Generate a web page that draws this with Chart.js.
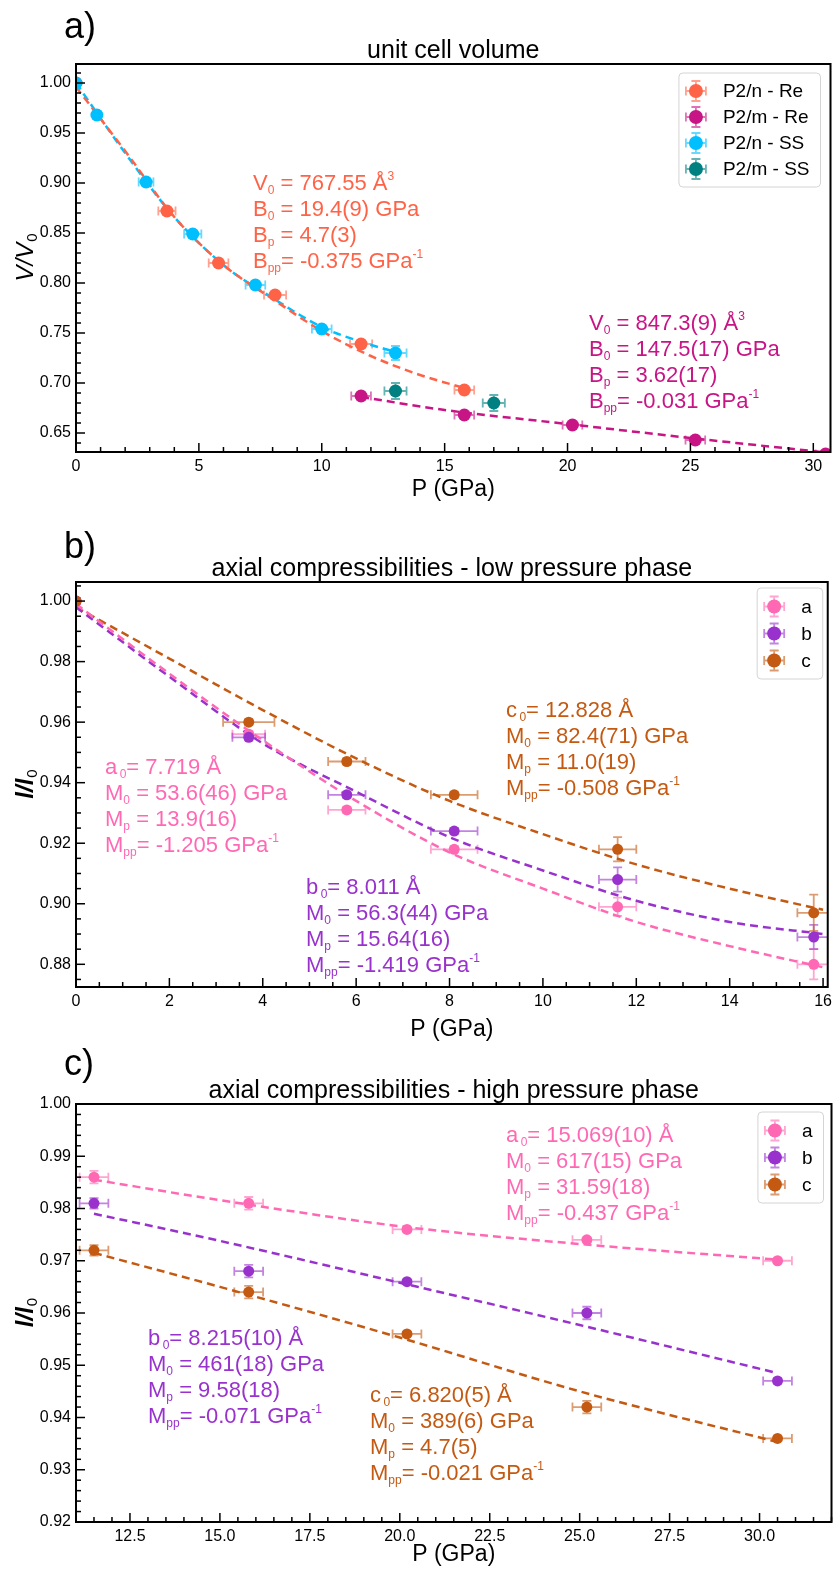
<!DOCTYPE html>
<html>
<head>
<meta charset="utf-8">
<script src="https://cdn.jsdelivr.net/npm/chart.js@4.4.0/dist/chart.umd.min.js"></script>
<style>
  body { margin: 0; background: #fff; }
  #wrap { position: relative; width: 837px; height: 1570px; overflow: hidden; font-family: "Liberation Sans", Arial, sans-serif; }
  canvas { position: absolute; left: 0; }
  .fit { position: absolute; font-size: 22px; line-height: 26px; white-space: nowrap; }
  .fit sub { font-size: 12px; vertical-align: -4px; line-height: 0; }
  .fit sup { font-size: 12px; vertical-align: 10px; line-height: 0; }
</style>
</head>
<body>
<div id="wrap">
  <canvas id="chA" width="837" height="505" style="top:0px"></canvas>
  <canvas id="chB" width="837" height="540" style="top:505px"></canvas>
  <canvas id="chC" width="837" height="525" style="top:1045px"></canvas>

  <div class="fit" style="left:253px;top:170px;color:#ff6347">
    V<sub>0</sub> = 767.55 Å<sup>3</sup><br>B<sub>0</sub> = 19.4(9) GPa<br>B<sub>p</sub> = 4.7(3)<br>B<sub>pp</sub>= -0.375 GPa<sup>-1</sup>
  </div>
  <div class="fit" style="left:589px;top:310px;color:#c71585">
    V<sub>0</sub> = 847.3(9) Å<sup>3</sup><br>B<sub>0</sub> = 147.5(17) GPa<br>B<sub>p</sub> = 3.62(17)<br>B<sub>pp</sub>= -0.031 GPa<sup>-1</sup>
  </div>

  <div class="fit" style="left:105px;top:754px;color:#ff69b4">
    a<sub>&thinsp;0</sub>= 7.719 Å<br>M<sub>0</sub> = 53.6(46) GPa<br>M<sub>p</sub> = 13.9(16)<br>M<sub>pp</sub>= -1.205 GPa<sup>-1</sup>
  </div>
  <div class="fit" style="left:506px;top:697px;color:#c45a12">
    c<sub>&thinsp;0</sub>= 12.828 Å<br>M<sub>0</sub> = 82.4(71) GPa<br>M<sub>p</sub> = 11.0(19)<br>M<sub>pp</sub>= -0.508 GPa<sup>-1</sup>
  </div>
  <div class="fit" style="left:306px;top:874px;color:#9932cc">
    b<sub>&thinsp;0</sub>= 8.011 Å<br>M<sub>0</sub> = 56.3(44) GPa<br>M<sub>p</sub> = 15.64(16)<br>M<sub>pp</sub>= -1.419 GPa<sup>-1</sup>
  </div>

  <div class="fit" style="left:506px;top:1122px;color:#ff69b4">
    a<sub>&thinsp;0</sub>= 15.069(10) Å<br>M<sub>0</sub> = 617(15) GPa<br>M<sub>p</sub> = 31.59(18)<br>M<sub>pp</sub>= -0.437 GPa<sup>-1</sup>
  </div>
  <div class="fit" style="left:148px;top:1325px;color:#9932cc">
    b<sub>&thinsp;0</sub>= 8.215(10) Å<br>M<sub>0</sub> = 461(18) GPa<br>M<sub>p</sub> = 9.58(18)<br>M<sub>pp</sub>= -0.071 GPa<sup>-1</sup>
  </div>
  <div class="fit" style="left:370px;top:1382px;color:#c45a12">
    c<sub>&thinsp;0</sub>= 6.820(5) Å<br>M<sub>0</sub> = 389(6) GPa<br>M<sub>p</sub> = 4.7(5)<br>M<sub>pp</sub>= -0.021 GPa<sup>-1</sup>
  </div>
</div>

<script>
var font = '"Liberation Sans", Arial, sans-serif';

// ---------- a) unit cell volume ----------
var pnReP  = [0, 3.7, 5.8, 8.1, 11.6, 15.8];
var pnReV  = [1.000, 0.872, 0.820, 0.788, 0.739, 0.693];
var pnReXe = [0.05, 0.35, 0.4, 0.45, 0.45, 0.4];
var pnReYe = [0.001, 0.002, 0.002, 0.002, 0.002, 0.003];

var pmReP  = [11.6, 15.8, 20.2, 25.2, 30.5];
var pmReV  = [0.687, 0.668, 0.658, 0.643, 0.629];
var pmReXe = [0.4, 0.4, 0.4, 0.4, 0.4];
var pmReYe = [0.003, 0.003, 0.002, 0.002, 0.002];

var pnSsP  = [0, 0.85, 2.85, 4.75, 7.3, 10.0, 13.0];
var pnSsV  = [1.000, 0.968, 0.901, 0.849, 0.798, 0.754, 0.730];
var pnSsXe = [0.05, 0.15, 0.3, 0.35, 0.4, 0.4, 0.45];
var pnSsYe = [0.001, 0.002, 0.002, 0.002, 0.003, 0.003, 0.007];

var pmSsP  = [13.0, 17.0];
var pmSsV  = [0.692, 0.680];
var pmSsXe = [0.45, 0.45];
var pmSsYe = [0.008, 0.008];

// fitted curves
var pnReFitP = [0, 2, 4, 6, 8, 10, 12, 14, 15.8];
var pnReFitV = [0.996, 0.932, 0.866, 0.818, 0.784, 0.752, 0.727, 0.708, 0.695];
var pnSsFitP = [0, 2, 4, 6, 8, 10, 11.5, 13.0];
var pnSsFitV = [1.000, 0.930, 0.866, 0.818, 0.785, 0.756, 0.742, 0.731];
var pmReFitP = [11.6, 15, 20, 25, 30.7];
var pmReFitV = [0.686, 0.673, 0.659, 0.645, 0.630];

var volTicks = [0.65, 0.70, 0.75, 0.80, 0.85, 0.90, 0.95, 1.00];
var pTicksA  = [0, 5, 10, 15, 20, 25, 30];

// ---------- b) low pressure phase ----------
var lowP   = [0, 3.7, 5.8, 8.1, 11.6, 15.8];
var lowA   = [1.000, 0.956, 0.931, 0.918, 0.899, 0.880];
var lowB   = [1.000, 0.955, 0.936, 0.924, 0.908, 0.889];
var lowC   = [1.000, 0.960, 0.947, 0.936, 0.918, 0.897];
var lowAXe = [0.05, 0.35, 0.4, 0.5, 0.4, 0.35];
var lowBXe = [0.05, 0.35, 0.4, 0.5, 0.4, 0.35];
var lowCXe = [0.05, 0.55, 0.4, 0.5, 0.4, 0.35];
var lowAYe = [0.001, 0.001, 0.001, 0.001, 0.003, 0.005];
var lowBYe = [0.001, 0.001, 0.001, 0.001, 0.004, 0.004];
var lowCYe = [0.001, 0.001, 0.001, 0.001, 0.004, 0.006];

var lowFitP = [0, 2, 4, 6, 8, 10, 12, 14, 16];
var lowFitA = [0.999, 0.976, 0.954, 0.934, 0.917, 0.905, 0.894, 0.886, 0.879];
var lowFitB = [0.998, 0.975, 0.953, 0.937, 0.922, 0.911, 0.901, 0.894, 0.890];
var lowFitC = [0.998, 0.981, 0.964, 0.948, 0.934, 0.923, 0.913, 0.905, 0.898];

var lowTicks = [0.88, 0.90, 0.92, 0.94, 0.96, 0.98, 1.00];
var pTicksB  = [0, 2, 4, 6, 8, 10, 12, 14, 16];

// ---------- c) high pressure phase ----------
var highP   = [11.5, 15.8, 20.2, 25.2, 30.5];
var highA   = [0.986, 0.981, 0.976, 0.974, 0.970];
var highB   = [0.981, 0.968, 0.966, 0.960, 0.947];
var highC   = [0.972, 0.964, 0.956, 0.942, 0.936];
var highXe  = [0.4, 0.4, 0.4, 0.4, 0.4];
var highAYe = [0.0012, 0.0012, 0.0004, 0.0004, 0.0004];
var highBYe = [0.0010, 0.0012, 0.0004, 0.0012, 0.0005];
var highCYe = [0.0010, 0.0012, 0.0004, 0.0012, 0.0004];

var highFitP = [11.5, 15, 20, 25, 30.5];
var highFitA = [0.9855, 0.9816, 0.9766, 0.9732, 0.9702];
var highFitB = [0.9790, 0.9738, 0.9658, 0.9577, 0.9485];
var highFitC = [0.9715, 0.9650, 0.9553, 0.9450, 0.9353];

var highTicks = [0.92, 0.93, 0.94, 0.95, 0.96, 0.97, 0.98, 0.99, 1.00];
var pTicksC   = [12.5, 15.0, 17.5, 20.0, 22.5, 25.0, 27.5, 30.0];

var cTomato = '#ff6347', cViolet = '#c71585', cSky = '#00bfff', cTeal = '#008080';
var cA = '#ff69b4', cB = '#9932cc', cC = '#c45a12';

function fade(hex, a) {
  var n = parseInt(hex.slice(1), 16);
  return 'rgba(' + (n >> 16) + ',' + ((n >> 8) & 255) + ',' + (n & 255) + ',' + a + ')';
}

function drawErr(ctx, px, py, x0, x1, y0, y1, cap) {
  ctx.beginPath();
  ctx.moveTo(x0, py); ctx.lineTo(x1, py);
  ctx.moveTo(px, y0); ctx.lineTo(px, y1);
  ctx.moveTo(x0, py - cap); ctx.lineTo(x0, py + cap);
  ctx.moveTo(x1, py - cap); ctx.lineTo(x1, py + cap);
  ctx.moveTo(px - cap, y0); ctx.lineTo(px + cap, y0);
  ctx.moveTo(px - cap, y1); ctx.lineTo(px + cap, y1);
  ctx.stroke();
}

var panelPlugin = {
  id: 'panel',
  beforeDatasetsDraw: function (chart, args, o) {
    var ctx = chart.ctx, a = chart.chartArea, sx = chart.scales.x, sy = chart.scales.y;
    ctx.save();
    ctx.beginPath(); ctx.rect(a.left, a.top, a.right - a.left, a.bottom - a.top); ctx.clip();
    ctx.lineWidth = 1.8;
    chart.data.datasets.forEach(function (ds) {
      if (!ds.xErr) return;
      ctx.strokeStyle = fade(ds.borderColor, 0.6);
      ds.data.forEach(function (p, i) {
        drawErr(ctx, sx.getPixelForValue(p.x), sy.getPixelForValue(p.y),
          sx.getPixelForValue(p.x - ds.xErr[i]), sx.getPixelForValue(p.x + ds.xErr[i]),
          sy.getPixelForValue(p.y - ds.yErr[i]), sy.getPixelForValue(p.y + ds.yErr[i]), 4.5);
      });
    });
    ctx.restore();
  },
  afterDraw: function (chart, args, o) {
    var ctx = chart.ctx, a = chart.chartArea, sx = chart.scales.x, sy = chart.scales.y;
    ctx.save();
    // frame
    ctx.strokeStyle = '#000'; ctx.lineWidth = 2;
    ctx.strokeRect(a.left, a.top, a.right - a.left, a.bottom - a.top);
    // inward ticks, left and bottom
    ctx.lineWidth = 1.5;
    function ticks(min, max, step, major, isX) {
      for (var n = Math.ceil(min / step - 1e-6); n * step <= max + 1e-9; n++) {
        var v = n * step;
        var big = Math.abs(v / major - Math.round(v / major)) < 1e-6;
        var len = big ? 9 : 5;
        ctx.beginPath();
        if (isX) { var px = sx.getPixelForValue(v); ctx.moveTo(px, a.bottom); ctx.lineTo(px, a.bottom - len); }
        else { var py = sy.getPixelForValue(v); ctx.moveTo(a.left, py); ctx.lineTo(a.left + len, py); }
        ctx.stroke();
      }
    }
    ticks(sx.min, sx.max, o.xMinor, o.xMajor, true);
    ticks(sy.min, sy.max, o.yMinor, o.yMajor, false);

    // panel letter and title
    ctx.fillStyle = '#000';
    ctx.textBaseline = 'alphabetic';
    ctx.textAlign = 'left';
    ctx.font = '36px ' + font;
    ctx.fillText(o.letter, 64, a.top - o.letterDy);
    ctx.textAlign = 'center';
    ctx.font = '25px ' + font;
    ctx.fillText(o.title, (a.left + a.right) / 2, a.top - 6);

    // y axis label with subscript
    ctx.translate(26, (a.top + a.bottom) / 2);
    ctx.rotate(-Math.PI / 2);
    ctx.font = o.yStyle + ' 24px ' + font;
    var w1 = ctx.measureText(o.yLabel).width;
    ctx.font = '15px ' + font;
    var w2 = ctx.measureText('0').width;
    ctx.textAlign = 'left'; ctx.textBaseline = 'middle';
    ctx.font = o.yStyle + ' 24px ' + font;
    ctx.fillText(o.yLabel, -(w1 + w2) / 2, 0);
    ctx.font = '15px ' + font;
    ctx.fillText('0', -(w1 + w2) / 2 + w1 + 1, 7);
    ctx.setTransform(1, 0, 0, 1, 0, 0);

    // legend box
    var items = chart.data.datasets.filter(function (d) { return d.inLegend; });
    ctx.font = o.legendFont + 'px ' + font;
    var tw = Math.max.apply(null, items.map(function (d) { return ctx.measureText(d.label).width; }));
    var bw = 44 + tw + 11, bh = items.length * o.legendRow + 10;
    var bx = a.right - o.legendDx - bw, by = a.top + o.legendDy;
    ctx.beginPath();
    ctx.roundRect(bx, by, bw, bh, 4);
    ctx.fillStyle = 'rgba(255,255,255,0.85)'; ctx.fill();
    ctx.strokeStyle = '#d4d4d4'; ctx.lineWidth = 1; ctx.stroke();
    ctx.textAlign = 'left'; ctx.textBaseline = 'middle';
    items.forEach(function (d, i) {
      var cy = by + 5 + o.legendRow * (i + 0.5), cx = bx + 17;
      ctx.strokeStyle = fade(d.borderColor, 0.6); ctx.lineWidth = 1.8;
      drawErr(ctx, cx, cy, cx - 10, cx + 10, cy - 10, cy + 10, 4.5);
      ctx.beginPath(); ctx.arc(cx, cy, 7, 0, Math.PI * 2);
      ctx.fillStyle = d.borderColor; ctx.fill();
      ctx.fillStyle = '#000';
      ctx.fillText(d.label, bx + 44, cy + 1);
    });
    ctx.restore();
  }
};

function pts(xs, ys) { return xs.map(function (x, i) { return { x: x, y: ys[i] }; }); }

function buildChart(id, cfg) {
  var datasets = [];
  cfg.fits.forEach(function (f) {
    datasets.push({
      data: pts(f.xs, f.ys), showLine: true, borderColor: f.color, borderWidth: 2.5,
      borderDash: [8, 5], pointRadius: 0, cubicInterpolationMode: 'monotone',
      fill: false, clip: 0, order: 100
    });
  });
  cfg.series.forEach(function (s, i) {
    datasets.push({
      label: s.label, data: pts(s.xs, s.ys), backgroundColor: s.color, borderColor: s.color,
      pointRadius: cfg.r, pointHoverRadius: cfg.r, borderWidth: 0,
      xErr: s.xe, yErr: s.ye, inLegend: true, clip: 0, order: 50 - i
    });
  });
  var tickFont = { family: font, size: 16 };
  return new Chart(document.getElementById(id), {
    type: 'scatter',
    data: { datasets: datasets },
    plugins: [panelPlugin],
    options: {
      responsive: false, animation: false, devicePixelRatio: 1, events: [],
      layout: { padding: { top: cfg.padTop, right: 2, left: 0, bottom: 0 } },
      plugins: {
        legend: { display: false }, tooltip: { enabled: false },
        panel: cfg.panel
      },
      scales: {
        x: {
          type: 'linear', min: cfg.xMin, max: cfg.xMax,
          afterBuildTicks: function (s) { s.ticks = cfg.xTicks.map(function (v) { return { value: v }; }); },
          afterFit: function (s) { s.height = cfg.xAxisH; },
          ticks: { callback: cfg.xFmt, color: '#000', font: tickFont, padding: 5, maxRotation: 0, autoSkip: false },
          grid: { display: false, drawTicks: false }, border: { display: false },
          title: { display: true, text: 'P (GPa)', color: '#000', font: { family: font, size: 23 }, padding: { top: 0, bottom: 2 } }
        },
        y: {
          type: 'linear', min: cfg.yMin, max: cfg.yMax,
          afterBuildTicks: function (s) { s.ticks = cfg.yTicks.map(function (v) { return { value: v }; }); },
          afterFit: function (s) { s.width = 76; },
          ticks: { callback: function (v) { return v.toFixed(2); }, color: '#000', font: tickFont, padding: 5, autoSkip: false },
          grid: { display: false, drawTicks: false }, border: { display: false }
        }
      }
    }
  });
}

buildChart('chA', {
  padTop: 64, xAxisH: 53, r: 6.5,
  xMin: 0, xMax: 30.7, yMin: 0.631, yMax: 1.019,
  xTicks: pTicksA, yTicks: volTicks, xFmt: function (v) { return String(v); },
  series: [
    { label: 'P2/n - Re', color: cTomato, xs: pnReP, ys: pnReV, xe: pnReXe, ye: pnReYe },
    { label: 'P2/m - Re', color: cViolet, xs: pmReP, ys: pmReV, xe: pmReXe, ye: pmReYe },
    { label: 'P2/n - SS', color: cSky, xs: pnSsP, ys: pnSsV, xe: pnSsXe, ye: pnSsYe },
    { label: 'P2/m - SS', color: cTeal, xs: pmSsP, ys: pmSsV, xe: pmSsXe, ye: pmSsYe }
  ],
  fits: [
    { color: cTomato, xs: pnReFitP, ys: pnReFitV },
    { color: cViolet, xs: pmReFitP, ys: pmReFitV },
    { color: cSky, xs: pnSsFitP, ys: pnSsFitV }
  ],
  panel: { letter: 'a)', letterDy: 26, title: 'unit cell volume', yLabel: 'V/V', yStyle: 'italic',
           xMinor: 1, xMajor: 5, yMinor: 0.01, yMajor: 0.05,
           legendFont: 19, legendRow: 26, legendDx: 10, legendDy: 9 }
});

buildChart('chB', {
  padTop: 77, xAxisH: 58, r: 5.5,
  xMin: 0, xMax: 16.1, yMin: 0.8725, yMax: 1.0063,
  xTicks: pTicksB, yTicks: lowTicks, xFmt: function (v) { return String(v); },
  series: [
    { label: 'a', color: cA, xs: lowP, ys: lowA, xe: lowAXe, ye: lowAYe },
    { label: 'b', color: cB, xs: lowP, ys: lowB, xe: lowBXe, ye: lowBYe },
    { label: 'c', color: cC, xs: lowP, ys: lowC, xe: lowCXe, ye: lowCYe }
  ],
  fits: [
    { color: cA, xs: lowFitP, ys: lowFitA },
    { color: cB, xs: lowFitP, ys: lowFitB },
    { color: cC, xs: lowFitP, ys: lowFitC }
  ],
  panel: { letter: 'b)', letterDy: 24, title: 'axial compressibilities - low pressure phase', yLabel: 'l/l', yStyle: 'italic bold',
           xMinor: 0.5, xMajor: 2, yMinor: 0.005, yMajor: 0.02,
           legendFont: 19, legendRow: 27, legendDx: 5, legendDy: 6 }
});

buildChart('chC', {
  padTop: 59, xAxisH: 48, r: 5.5,
  xMin: 11, xMax: 32, yMin: 0.92, yMax: 1.00,
  xTicks: pTicksC, yTicks: highTicks, xFmt: function (v) { return v.toFixed(1); },
  series: [
    { label: 'a', color: cA, xs: highP, ys: highA, xe: highXe, ye: highAYe },
    { label: 'b', color: cB, xs: highP, ys: highB, xe: highXe, ye: highBYe },
    { label: 'c', color: cC, xs: highP, ys: highC, xe: highXe, ye: highCYe }
  ],
  fits: [
    { color: cA, xs: highFitP, ys: highFitA },
    { color: cB, xs: highFitP, ys: highFitB },
    { color: cC, xs: highFitP, ys: highFitC }
  ],
  panel: { letter: 'c)', letterDy: 29, title: 'axial compressibilities - high pressure phase', yLabel: 'l/l', yStyle: 'italic bold',
           xMinor: 0.5, xMajor: 2.5, yMinor: 0.002, yMajor: 0.01,
           legendFont: 19, legendRow: 27, legendDx: 8, legendDy: 8 }
});
</script>
</body>
</html>
